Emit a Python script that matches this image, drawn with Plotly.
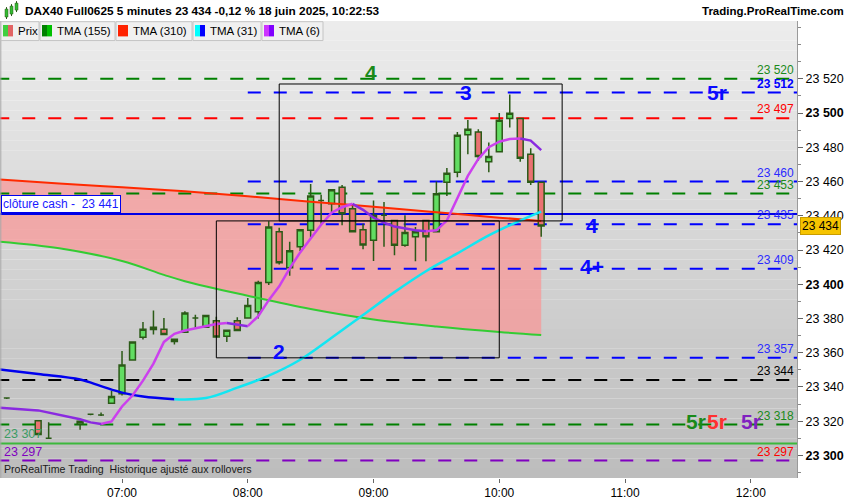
import plotly.graph_objects as go

DAY = "2025-06-18 "
FONT = "Liberation Sans, Arial, sans-serif"

def T(hm):
    return DAY + hm

# ---------------- data ----------------
candle_times = ["06:05", "06:20", "06:25", "06:40", "06:45", "06:50", "06:55",
                "07:00", "07:05", "07:10", "07:15", "07:20", "07:25", "07:30", "07:35", "07:40", "07:45", "07:50", "07:55",
                "08:00", "08:05", "08:10", "08:15", "08:20", "08:25", "08:30", "08:35", "08:40", "08:45", "08:50", "08:55",
                "09:00", "09:05", "09:10", "09:15", "09:20", "09:25", "09:30", "09:35", "09:40", "09:45", "09:50", "09:55",
                "10:00", "10:05", "10:10", "10:15", "10:20"]
opens = [23333.5, 23320.3, 23310.0, 23318.3, 23324.0, 23323.6, 23330.5,
         23336.0, 23355.7, 23369.0, 23373.5, 23373.7, 23367.9, 23372.0, 23380.3, 23374.9, 23378.7, 23369.6, 23378.7,
         23380.3, 23384.0, 23401.0, 23430.6, 23409.7, 23421.9, 23431.5, 23449.0, 23447.0, 23456.7, 23444.1, 23431.9,
         23425.7, 23440.3, 23437.3, 23422.8, 23427.7, 23437.3, 23430.6, 23459.6, 23465.4, 23487.3, 23489.0, 23471.6,
         23477.4, 23496.8, 23496.8, 23476.0, 23459.6]
highs = [23334.0, 23320.5, 23319.3, 23320.0, 23324.5, 23325.0, 23337.7,
         23361.0, 23366.5, 23378.0, 23384.7, 23380.3, 23368.0, 23384.2, 23382.2, 23382.0, 23381.0, 23373.2, 23380.7,
         23392.0, 23402.0, 23436.8, 23433.0, 23424.8, 23432.0, 23458.6, 23452.3, 23455.5, 23458.0, 23446.0, 23435.4,
         23449.0, 23448.0, 23437.5, 23440.3, 23433.5, 23437.5, 23460.0, 23467.9, 23489.0, 23496.0, 23490.6, 23482.8,
         23500.0, 23510.9, 23497.0, 23479.4, 23460.0]
lows = [23333.0, 23312.0, 23310.0, 23315.0, 23323.5, 23323.0, 23330.5,
        23335.0, 23355.5, 23367.7, 23370.6, 23370.5, 23364.8, 23372.0, 23374.5, 23374.9, 23369.0, 23366.2, 23373.0,
        23380.0, 23380.0, 23399.6, 23411.6, 23405.0, 23419.4, 23427.1, 23435.4, 23442.2, 23434.4, 23430.5, 23420.5,
        23413.6, 23421.9, 23417.0, 23421.9, 23413.5, 23413.5, 23430.5, 23451.5, 23462.5, 23476.0, 23472.2, 23465.4,
        23477.0, 23491.6, 23471.6, 23458.0, 23427.7]
closes = [23333.5, 23312.2, 23310.0, 23319.9, 23324.0, 23323.6, 23334.4,
          23352.8, 23366.3, 23373.7, 23374.9, 23370.6, 23366.5, 23383.2, 23380.3, 23381.8, 23369.2, 23373.1, 23373.0,
          23387.6, 23401.0, 23433.5, 23412.6, 23419.6, 23431.9, 23451.5, 23449.0, 23455.2, 23441.2, 23430.6, 23422.9,
          23440.3, 23440.3, 23422.8, 23430.2, 23430.6, 23427.7, 23452.8, 23464.9, 23487.1, 23490.6, 23474.7, 23474.7,
          23495.8, 23499.9, 23473.6, 23459.6, 23434.0]

tma310_times = ["06:00", "06:30", "07:00", "07:30", "08:00", "08:30", "09:00", "09:30", "10:00", "10:20"]
tma310_vals = [23461.3, 23458.9, 23456.6, 23454.3, 23451.4, 23448.2, 23445.3, 23442.1, 23438.9, 23436.9]

tma155_times = ["06:00", "06:30", "07:00", "07:20", "07:30", "08:00", "08:30", "09:00", "09:30", "10:00", "10:20"]
tma155_vals = [23425.0, 23421.0, 23413.6, 23405.5, 23401.8, 23393.3, 23385.5, 23379.4, 23375.3, 23372.1, 23370.4]

tma31_times = ["06:00", "06:20", "06:40", "06:50", "07:00", "07:10", "07:25", "07:40", "07:55", "08:10",
               "08:25", "08:40", "08:55", "09:10", "09:25", "09:40", "09:55", "10:10", "10:20"]
tma31_vals = [23350.4, 23347.5, 23344.3, 23340.5, 23336.7, 23334.4, 23332.8, 23333.5, 23339.6, 23346.6,
              23355.9, 23368.7, 23382.0, 23395.4, 23407.6, 23418.0, 23428.5, 23437.2, 23442.4]

tma6_times = ["06:00", "06:20", "06:40", "06:45", "06:50", "06:55",
              "07:00", "07:05", "07:10", "07:15", "07:20", "07:25", "07:30", "07:35", "07:40", "07:45", "07:50", "07:55",
              "08:00", "08:05", "08:10", "08:15", "08:20", "08:25", "08:30", "08:35", "08:40", "08:45", "08:50", "08:55",
              "09:00", "09:05", "09:10", "09:15", "09:20", "09:25", "09:30", "09:35", "09:40", "09:45", "09:50", "09:55",
              "10:00", "10:05", "10:10", "10:15", "10:20"]
tma6_vals = [23328.0, 23326.3, 23321.1, 23319.3, 23318.3, 23319.9,
             23328.6, 23335.0, 23343.7, 23353.6, 23366.3, 23371.0, 23373.0, 23374.2, 23375.6, 23376.8, 23377.4, 23376.5,
             23375.5, 23381.4, 23390.7, 23398.8, 23409.3, 23418.6, 23426.7, 23434.8, 23441.8, 23445.0, 23447.0, 23443.5,
             23438.9, 23436.0, 23433.7, 23432.5, 23431.5, 23430.9, 23431.5, 23437.2, 23449.9, 23463.3, 23473.2, 23480.1,
             23483.3, 23484.8, 23485.2, 23483.9, 23478.4]

# horizontal levels
levels = [23520, 23512, 23497, 23460, 23453, 23435, 23409, 23357, 23344, 23318, 23297]
level_colors = ["#008000", "#0000ff", "#ff0000", "#0000ff", "#008000", "#0000ff", "#0000ff", "#0000ff",
                "#000000", "#008000", "#8000c0"]
level_label_colors = ["#1a8a1a", "#0000ff", "#ff0000", "#2a2aff", "#1a8a1a", "#2a2aff", "#2a2aff", "#2a2aff",
                      "#000000", "#1a8a1a", "#ff0000"]
level_starts = ["06:00", "08:00", "06:00", "08:00", "06:00", "08:00", "08:00", "08:00", "06:00", "06:00", "06:00"]
cash_close = 23441
support_line = 23307
zone_boxes = [("08:15", "10:30", 23437, 23517), ("07:45", "10:00", 23357, 23437)]

labels_text = ["4", "3", "5r", "2", "4", "4+", "5r", "5r", "5r"]
labels_time = ["08:59", "09:44", "11:44", "08:15", "10:44", "10:44", "11:34", "11:44", "12:00"]
labels_val = [23523.7, 23512.2, 23512.0, 23360.5, 23434.3, 23410.5, 23319.8, 23319.8, 23319.8]
labels_color = ["#1a8a1a", "#0a0aff", "#0a0aff", "#0a0aff", "#0a0aff", "#0a0aff", "#1a8a1a", "#ff3030", "#8020c0"]

ytick_vals = [23300, 23320, 23340, 23360, 23380, 23400, 23420, 23440, 23460, 23480, 23500, 23520]

X_START = DAY + "06:01:47"
X_END = DAY + "12:22:03"
Y_MIN, Y_MAX = 23286.8, 23553.8

# ---------------- helpers ----------------
PW, PT, PB = 797.0, 21.0, 481.0
PH = PB - PT


def px(x):
    return x / PW


def py(y):
    return (PB - y) / PH


def fmt(v):
    return f"{v:,.0f}".replace(",", " ")


def runs_by_direction(times, vals):
    runs = []
    cur = None
    for i in range(len(vals) - 1):
        rising = vals[i + 1] >= vals[i]
        if cur is None or cur[0] != rising:
            cur = [rising, [T(times[i])], [vals[i]]]
            runs.append(cur)
        cur[1].append(T(times[i + 1]))
        cur[2].append(vals[i + 1])
    return runs


fig = go.Figure()

# ---- base subplot: fill between TMA310 and TMA155, level lines ----
fig.add_trace(go.Scatter(x=[T(t) for t in tma155_times], y=tma155_vals, mode="lines",
                         line=dict(width=0, shape="spline"), hoverinfo="skip", showlegend=False))
fig.add_trace(go.Scatter(x=[T(t) for t in tma310_times], y=tma310_vals, mode="lines",
                         line=dict(width=0, shape="spline"), fill="tonexty",
                         fillcolor="rgba(250,150,150,0.72)", hoverinfo="skip", showlegend=False))

for v, c, s in zip(levels, level_colors, level_starts):
    fig.add_trace(go.Scatter(x=[T(s), X_END], y=[v, v], mode="lines",
                             line=dict(color=c, width=2, dash="13px,13px"),
                             hoverinfo="skip", showlegend=False))
fig.add_trace(go.Scatter(x=[T("06:00"), X_END], y=[cash_close, cash_close], mode="lines",
                         line=dict(color="#0000e6", width=2), hoverinfo="skip", showlegend=False))
fig.add_trace(go.Scatter(x=[T("06:00"), X_END], y=[support_line, support_line], mode="lines",
                         line=dict(color="#3cb83c", width=2), hoverinfo="skip", showlegend=False))

# ---- overlay subplot: candles and moving averages ----
fig.add_trace(go.Candlestick(
    x=[T(t) for t in candle_times], open=opens, high=highs, low=lows, close=closes,
    xaxis="x2", yaxis="y2", whiskerwidth=0,
    increasing=dict(fillcolor="#62dd62", line=dict(color="#2b5a17", width=1.5)),
    decreasing=dict(fillcolor="#ea7272", line=dict(color="#2b5a17", width=1.5)),
    hoverinfo="skip", showlegend=False))

fig.add_trace(go.Scatter(x=[T(t) for t in tma155_times], y=tma155_vals, mode="lines", xaxis="x2", yaxis="y2",
                         line=dict(color="#33cc33", width=2, shape="spline"), hoverinfo="skip", showlegend=False))
fig.add_trace(go.Scatter(x=[T(t) for t in tma310_times], y=tma310_vals, mode="lines", xaxis="x2", yaxis="y2",
                         line=dict(color="#ff2a00", width=2, shape="spline"), hoverinfo="skip", showlegend=False))

for rising, xs, ys in runs_by_direction(tma31_times, tma31_vals):
    fig.add_trace(go.Scatter(x=xs, y=ys, mode="lines", xaxis="x2", yaxis="y2",
                             line=dict(color="#12e6f2" if rising else "#0000ee", width=2.5, shape="spline"),
                             hoverinfo="skip", showlegend=False))
for rising, xs, ys in runs_by_direction(tma6_times, tma6_vals):
    fig.add_trace(go.Scatter(x=xs, y=ys, mode="lines", xaxis="x2", yaxis="y2",
                             line=dict(color="#cc40ee" if rising else "#8a2ae0", width=2.5),
                             hoverinfo="skip", showlegend=False))

# ---------------- shapes ----------------
shapes = []
NB = 46
for i in range(NB):
    g = int(round(237 - (i + 0.5) / NB * 49))
    shapes.append(dict(type="rect", xref="paper", yref="paper", x0=0, x1=1,
                       y0=1 - (i + 1) / NB, y1=1 - i / NB, layer="below",
                       line=dict(width=0), fillcolor=f"rgb({g},{g},{g})"))
shapes.append(dict(type="line", xref="paper", yref="paper", x0=0.001, x1=0.001, y0=0, y1=1,
                   line=dict(color="#a8a8a8", width=1)))
for t0, t1, v0, v1 in zone_boxes:
    shapes.append(dict(type="rect", xref="x", yref="y", x0=T(t0), x1=T(t1), y0=v0, y1=v1,
                       line=dict(color="#000000", width=1), fillcolor="rgba(0,0,0,0)", layer="above"))

# legend row
legend_names = ["Prix", "TMA (155)", "TMA (310)", "TMA (31)", "TMA (6)"]
legend_swatches = [("#3fcf3f", "#e26464"), ("#008000", "#00c000"), ("#ff2200", "#ff2200"),
                   ("#00ffff", "#0000ff"), ("#cc33ff", "#8000ff")]
box_edges = [(1, 39), (40, 115), (116, 192), (193, 261), (262, 323)]
annotations = []
for (bx0, bx1), (c1, c2), name in zip(box_edges, legend_swatches, legend_names):
    shapes.append(dict(type="rect", xref="paper", yref="paper", x0=px(bx0), x1=px(bx1),
                       y0=py(40.7), y1=py(21.7), line=dict(color="#c4c4c4", width=1), fillcolor="#f0f0f0"))
    shapes.append(dict(type="rect", xref="paper", yref="paper", x0=px(bx0 + 2), x1=px(bx0 + 7),
                       y0=py(36.5), y1=py(25), line=dict(width=0), fillcolor=c1))
    shapes.append(dict(type="rect", xref="paper", yref="paper", x0=px(bx0 + 7), x1=px(bx0 + 12),
                       y0=py(36.5), y1=py(25), line=dict(width=0), fillcolor=c2))
    annotations.append(dict(xref="paper", yref="paper", x=px(bx0 + 15), y=py(31), xanchor="left",
                            yanchor="middle", text=name, showarrow=False,
                            font=dict(family=FONT, size=11.5, color="#000")))

# header icon (small candles)
for (ix0, ix1, iy0, iy1, col) in [(5, 8, 9, 17, "#33bb33"), (10, 13, 6, 14, "#33bb33"), (15, 18, 3, 10, "#33bb33")]:
    shapes.append(dict(type="line", xref="paper", yref="paper", x0=px((ix0 + ix1) / 2), x1=px((ix0 + ix1) / 2),
                       y0=py(iy1 + 2), y1=py(iy0 - 2), line=dict(color="#2b5a17", width=1)))
    shapes.append(dict(type="rect", xref="paper", yref="paper", x0=px(ix0), x1=px(ix1), y0=py(iy1), y1=py(iy0),
                       line=dict(color="#2b5a17", width=0.5), fillcolor=col))

# ---------------- annotations ----------------
annotations.append(dict(xref="paper", yref="paper", x=px(23), y=py(11), xanchor="left", yanchor="middle",
                        text="<b>DAX40 Full0625 5 minutes 23 434 -0,12 % 18 juin 2025, 10:22:53</b>",
                        showarrow=False, font=dict(family=FONT, size=11.8, color="#000")))
annotations.append(dict(xref="paper", yref="paper", x=px(846), y=py(11), xanchor="right", yanchor="middle",
                        text="<b>Trading.ProRealTime.com</b>", showarrow=False,
                        font=dict(family=FONT, size=11.5, color="#000")))
annotations.append(dict(xref="paper", yref="paper", x=px(2), y=py(472), xanchor="left", yanchor="middle",
                        text="ProRealTime Trading\u00a0 Historique ajusté aux rollovers", showarrow=False,
                        font=dict(family=FONT, size=10.6, color="#1a1a1a")))

for v, c in zip(levels, level_label_colors):
    txt = fmt(v)
    if v == 23512:
        txt = "<b>" + txt + "</b>"
    annotations.append(dict(xref="paper", yref="y", x=px(795), y=v, xanchor="right", yanchor="bottom",
                            text=txt, showarrow=False, borderpad=0, yshift=1,
                            font=dict(family=FONT, size=12, color=c)))
annotations.append(dict(xref="paper", yref="y", x=px(3), y=support_line, xanchor="left", yanchor="bottom",
                        text=fmt(support_line), showarrow=False, borderpad=0, yshift=1,
                        font=dict(family=FONT, size=12.5, color="#3c9c64")))
annotations.append(dict(xref="paper", yref="y", x=px(3), y=levels[-1], xanchor="left", yanchor="bottom",
                        text=fmt(levels[-1]), showarrow=False, borderpad=0, yshift=1,
                        font=dict(family=FONT, size=12.5, color="#8000c0")))
annotations.append(dict(xref="paper", yref="y", x=px(0.5), y=cash_close, xanchor="left", yanchor="bottom",
                        text="clôture cash -\u00a0 " + fmt(cash_close), showarrow=False, borderpad=1, yshift=1,
                        bgcolor="#ffffff", bordercolor="#0000ee", borderwidth=1,
                        font=dict(family=FONT, size=12, color="#1a1aff")))
annotations.append(dict(xref="paper", yref="y", x=1.0, y=closes[-1], xanchor="left", yanchor="middle",
                        xshift=3, text=fmt(closes[-1]), showarrow=False, borderpad=1,
                        bgcolor="#f6c400", bordercolor="#c89c00", borderwidth=1,
                        font=dict(family=FONT, size=12, color="#000")))

for txt, t, v, c in zip(labels_text, labels_time, labels_val, labels_color):
    annotations.append(dict(xref="x", yref="y", x=T(t), y=v, xanchor="center", yanchor="middle",
                            text="<b>" + txt + "</b>", showarrow=False,
                            font=dict(family=FONT, size=21, color=c)))

ytick_text = [("<b>" + fmt(v) + "</b>") if v % 100 == 0 else fmt(v) for v in ytick_vals]

fig.update_layout(
    width=850, height=500, autosize=False,
    margin=dict(l=0, r=53, t=21, b=19),
    paper_bgcolor="#ffffff", plot_bgcolor="rgba(0,0,0,0)",
    showlegend=False, boxgap=0.2,
    font=dict(family=FONT, size=12, color="#000"),
    xaxis=dict(type="date", range=[X_START, X_END], showgrid=False, zeroline=False, showline=False,
               tickformat="%H:%M", dtick=3600000, tick0=DAY + "00:00", ticks="outside", ticklen=4,
               tickcolor="#666", tickfont=dict(family=FONT, size=12, color="#000"),
               rangeslider=dict(visible=False), fixedrange=True),
    yaxis=dict(range=[Y_MIN, Y_MAX], side="right", showgrid=False, zeroline=False,
               tickmode="array", tickvals=ytick_vals, ticktext=ytick_text,
               ticks="outside", ticklen=5, tickcolor="#666", showline=True, linecolor="#9a9a9a",
               minor=dict(dtick=10, tick0=0, ticks="outside", ticklen=3, tickcolor="#888", showgrid=False),
               tickfont=dict(family=FONT, size=12.5, color="#000"), fixedrange=True),
    xaxis2=dict(type="date", range=[X_START, X_END], overlaying="x", visible=False,
                rangeslider=dict(visible=False), fixedrange=True),
    yaxis2=dict(range=[Y_MIN, Y_MAX], overlaying="y", visible=False, fixedrange=True),
    shapes=shapes, annotations=annotations,
)

fig.write_html("out.html", config=dict(displayModeBar=False),
               post_script="document.body.style.margin='0';document.body.style.padding='0';")
